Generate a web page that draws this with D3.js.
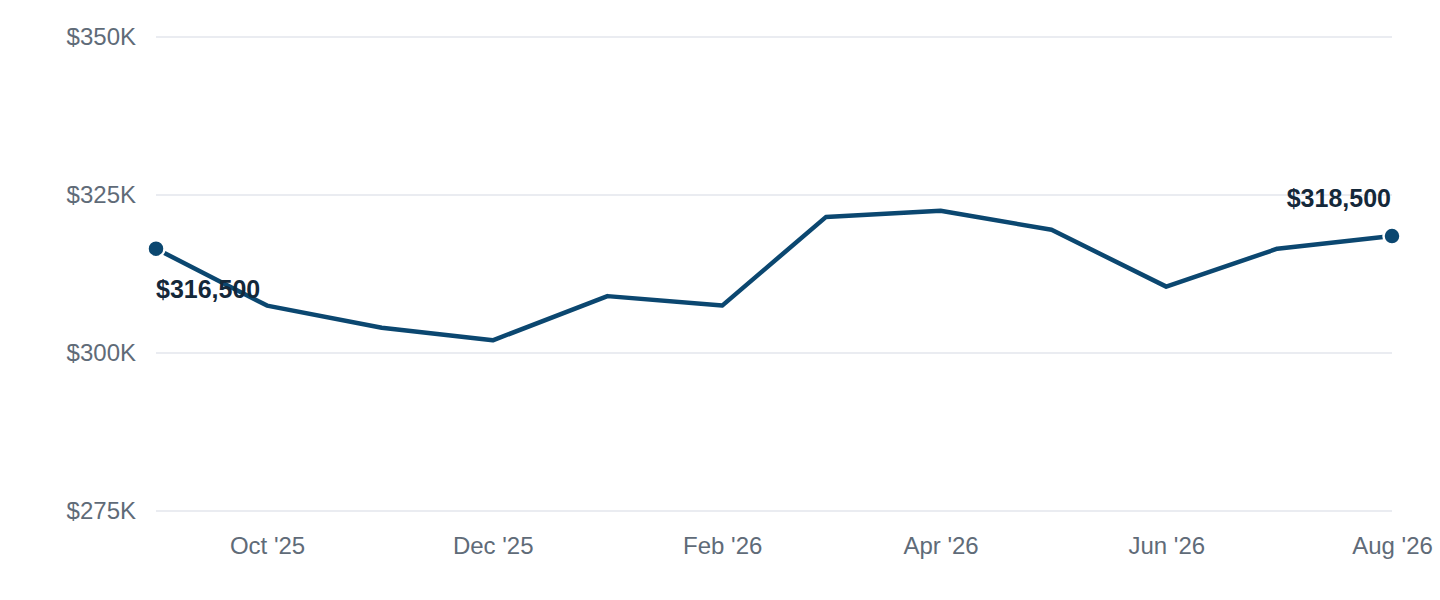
<!DOCTYPE html>
<html><head><meta charset="utf-8">
<script src="https://cdn.jsdelivr.net/npm/d3@7"></script>
<style>
html,body{margin:0;padding:0;background:#fff;}
svg{display:block;font-family:"Liberation Sans",Arial,Helvetica,sans-serif;}
</style></head><body>
<svg id="chart" width="1440" height="600"></svg>
<script>
const months = ["2025-09","2025-10","2025-11","2025-12","2026-01","2026-02","2026-03","2026-04","2026-05","2026-06","2026-07","2026-08"];
const prices = [316500,307500,304000,302000,309000,307500,321500,322500,319500,310500,316500,318500];
const yTicks = [275000,300000,325000,350000];
const xTickMonths = ["2025-10","2025-12","2026-02","2026-04","2026-06","2026-08"];

const parse = d3.timeParse("%Y-%m");
const data = months.map((m,i)=>({date:parse(m), value:prices[i]}));

const svg = d3.select("#chart");
const margin = {left:156, right:48, top:37, bottom:89};
const W = 1440, H = 600;
const FS = 24;

const x = d3.scaleTime().domain(d3.extent(data,d=>d.date)).range([margin.left, W-margin.right]);
const y = d3.scaleLinear().domain([275000,350000]).range([H-margin.bottom, margin.top]);

// gridlines
svg.append("g").selectAll("line").data(yTicks).join("line")
  .attr("x1",margin.left).attr("x2",W-margin.right)
  .attr("y1",d=>y(d)).attr("y2",d=>y(d))
  .attr("stroke","#e3e6ec").attr("stroke-width",1.5);

// y axis
const yAxis = d3.axisLeft(y).tickValues(yTicks).tickSize(0).tickPadding(20)
  .tickFormat(d=>"$"+(d/1000)+"K");
const gy = svg.append("g").attr("transform",`translate(${margin.left},0)`).call(yAxis);
gy.select(".domain").remove();
gy.selectAll("text").attr("font-size",FS).attr("fill","#5f6b78").attr("font-family","Liberation Sans, Arial, sans-serif");

// x axis
const xAxis = d3.axisBottom(x).tickValues(xTickMonths.map(parse)).tickSize(0).tickPadding(0)
  .tickFormat(d3.timeFormat("%b '%y"));
const gx = svg.append("g").attr("transform",`translate(0,${y(275000)+26})`).call(xAxis);
gx.select(".domain").remove();
gx.selectAll("text").attr("font-size",FS).attr("fill","#5f6b78").attr("font-family","Liberation Sans, Arial, sans-serif");

// line
const line = d3.line().x(d=>x(d.date)).y(d=>y(d.value));
svg.append("path").datum(data).attr("d",line)
  .attr("fill","none").attr("stroke","#0b4770").attr("stroke-width",4.5)
  .attr("stroke-linejoin","round").attr("stroke-linecap","butt");

// endpoint markers
const ends = [data[0], data[data.length-1]];
svg.append("g").selectAll("circle").data(ends).join("circle")
  .attr("cx",d=>x(d.date)).attr("cy",d=>y(d.value)).attr("r",8.5)
  .attr("fill","#0b4770").attr("stroke","#fff").attr("stroke-width",2.5);

const fmt = d3.format("$,");
svg.append("text").attr("x",x(ends[0].date)).attr("y",y(ends[0].value)+49)
  .attr("font-size",25).attr("font-weight","bold").attr("fill","#14283a")
  .text(fmt(ends[0].value));
svg.append("text").attr("x",x(ends[1].date)-1).attr("y",y(ends[1].value)-29)
  .attr("text-anchor","end")
  .attr("font-size",25).attr("font-weight","bold").attr("fill","#14283a")
  .text(fmt(ends[1].value));
</script>
</body></html>
